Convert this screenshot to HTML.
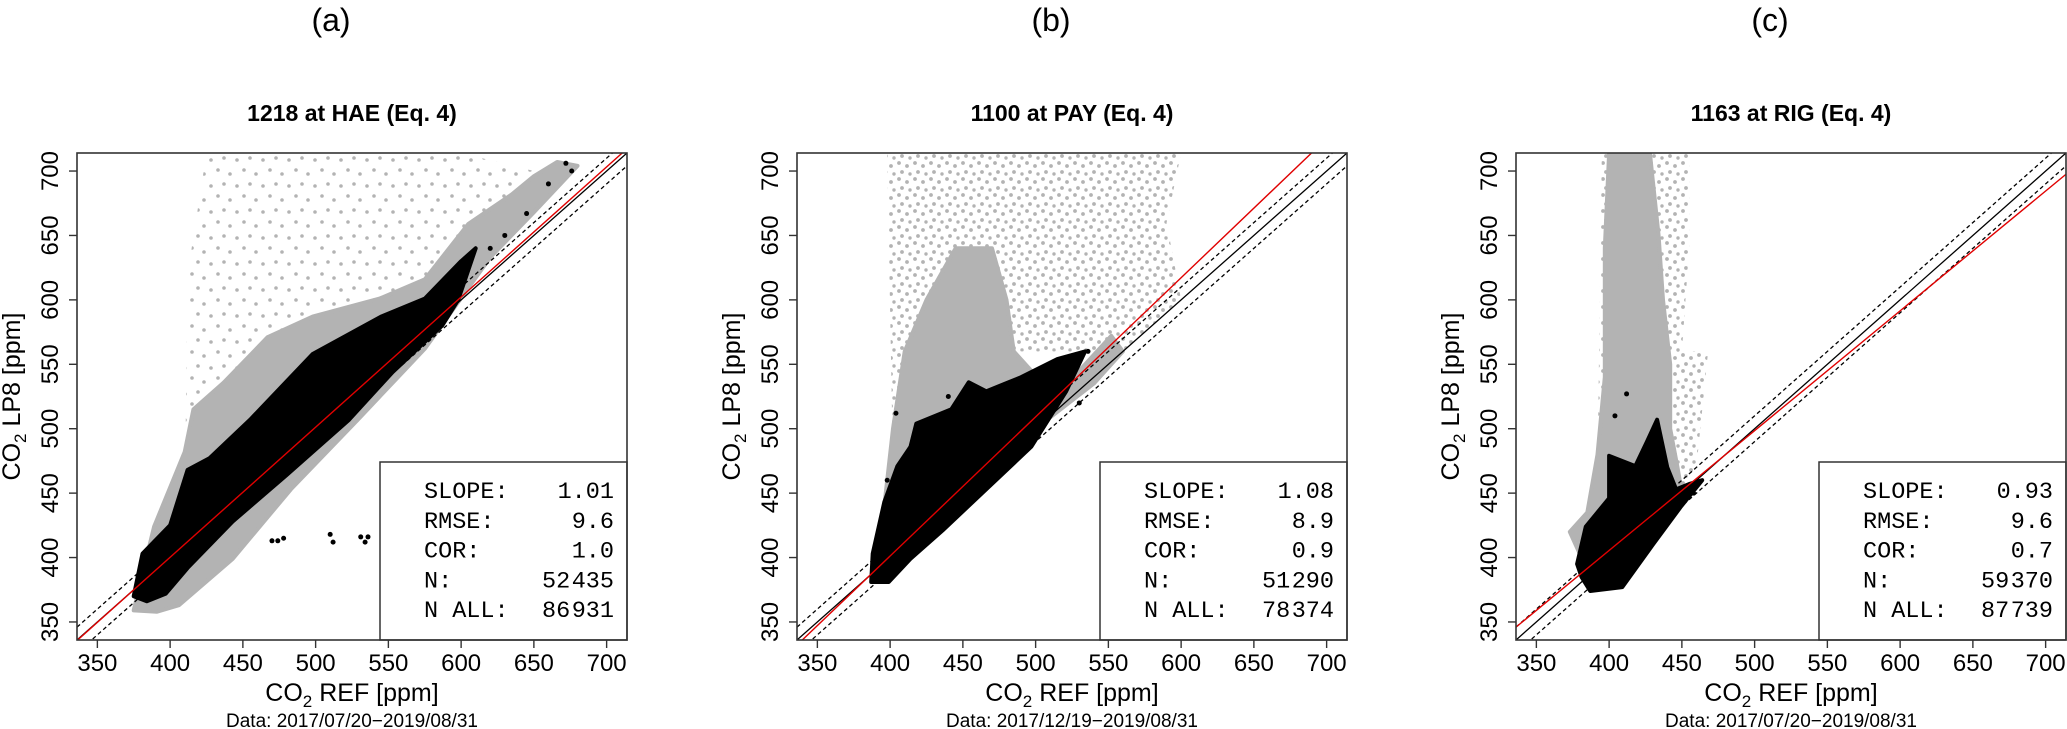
<!DOCTYPE html>
<html><head><meta charset="utf-8"><style>
html,body{margin:0;padding:0;background:#fff;}
svg{display:block;font-family:"Liberation Sans",Arial,sans-serif;}
.mono{font-family:"Liberation Mono","Courier New",monospace;}
</style></head><body>
<svg id="fig" width="2067" height="729" viewBox="0 0 2067 729" xmlns="http://www.w3.org/2000/svg">
<defs>
<pattern id="sparse" width="26" height="26" patternUnits="userSpaceOnUse">
<circle cx="3" cy="4" r="1.8" fill="#b3b3b3"/><circle cx="16" cy="2" r="1.8" fill="#b3b3b3"/>
<circle cx="10" cy="14" r="1.8" fill="#b3b3b3"/><circle cx="22" cy="18" r="1.8" fill="#b3b3b3"/>
</pattern>
<pattern id="sparse2" width="16" height="16" patternUnits="userSpaceOnUse">
<circle cx="3" cy="3" r="1.9" fill="#b3b3b3"/><circle cx="11" cy="6" r="1.9" fill="#b3b3b3"/>
<circle cx="6" cy="12" r="1.9" fill="#b3b3b3"/><circle cx="14" cy="14" r="1.7" fill="#b3b3b3"/>
</pattern>
</defs>
</svg>
<script>
// ---- data ----
const panelLetters = ["(a)", "(b)", "(c)"];
const panelTitles = ["1218 at HAE (Eq. 4)", "1100 at PAY (Eq. 4)", "1163 at RIG (Eq. 4)"];
const dateRanges = ["Data: 2017/07/20\u22122019/08/31", "Data: 2017/12/19\u22122019/08/31", "Data: 2017/07/20\u22122019/08/31"];
const tickValues = [350, 400, 450, 500, 550, 600, 650, 700];
const slopes = [1.01, 1.08, 0.93];
const intercepts = [-3.8, -30.8, 33.5];
const statLabels = ["SLOPE:", "RMSE:", "COR:", "N:", "N ALL:"];
const statsA = ["1.01", "9.6", "1.0", "52 435", "86 931"];
const statsB = ["1.08", "8.9", "0.9", "51 290", "78 374"];
const statsC = ["0.93", "9.6", "0.7", "59 370", "87 739"];
const sparseGrayA = [[410,440],[412,620],[425,714],[600,714],[650,700],[640,670],[560,600],[480,540],[430,490]];
const denseGrayA = [[375,359],[389,424],[410,482],[416,515],[437,536],[467,571],[498,587],[544,601],[575,616],[605,659],[635,682],[650,696],[666,707],[680,704],[650,668],[620,633],[575,562],[529,507],[483,453],[443,399],[406,363],[391,358]];
const blackA = [[375,370],[381,403],[400,425],[412,468],[427,477],[455,507],[498,558],[545,587],[575,601],[600,630],[610,640],[598,600],[587,580],[553,544],[523,507],[480,464],[443,428],[412,392],[397,372],[384,366]];
const outliersA = [[470,413],[474,413],[478,415],[510,418],[512,412],[531,416],[534,412],[536,416],[620,640],[630,650],[645,667],[660,690],[672,706],[676,700],[600,612],[593,603]];
const sparseGrayB = [[402,470],[398,714],[600,714],[590,660],[600,600],[560,560],[480,560]];
const denseGrayB = [[387,385],[396,440],[402,500],[410,560],[425,600],[445,640],[470,640],[480,600],[485,560],[505,535],[530,545],[552,572],[560,560],[540,535],[500,500],[460,460],[430,425],[405,390]];
const blackB = [[387,381],[388,403],[396,443],[405,471],[414,486],[418,504],[442,515],[454,536],[466,529],[490,540],[515,554],[534,560],[521,529],[497,486],[466,453],[436,421],[414,399],[399,381]];
const outliersB = [[398,460],[404,512],[440,525],[460,530],[536,560],[530,520],[478,520]];
const sparseGrayC = [[392,470],[395,714],[455,714],[455,640],[450,560],[468,560],[460,470],[450,450]];
const denseGrayC = [[373,420],[385,435],[392,480],[397,540],[397,640],[400,714],[428,714],[434,650],[437,600],[442,550],[442,500],[447,470],[450,450],[440,440],[430,415],[410,385],[385,390]];
const blackC = [[378,395],[384,424],[400,446],[400,479],[418,471],[426,490],[433,507],[440,470],[446,453],[455,457],[464,460],[449,439],[430,410],[409,377],[387,374],[381,385]];
const outliersC = [[412,527],[404,510],[452,455],[458,450]];
const sparseGroups = [sparseGrayA, sparseGrayB, sparseGrayC];
const denseGroups = [denseGrayA, denseGrayB, denseGrayC];
const blackGroups = [blackA, blackB, blackC];
const outlierGroups = [outliersA, outliersB, outliersC];
const statGroups = [statsA, statsB, statsC];

// ---- layout ----
const NS = "http://www.w3.org/2000/svg";
const svg = document.getElementById("fig");
const LIM = [336, 714];
const boxLefts = [77, 797, 1516];
const BW = 550, BT = 153, BB = 640;
function mk(tag, attrs, parent){ const e=document.createElementNS(NS,tag); for(const k in attrs) e.setAttribute(k,attrs[k]); (parent||svg).appendChild(e); return e; }

boxLefts.forEach((L, p) => {
  const g = mk("g", {});
  
  
  const sx = v => L + (v - LIM[0]) / (LIM[1]-LIM[0]) * BW;
  const sy = v => BB - (v - LIM[0]) / (LIM[1]-LIM[0]) * (BB-BT);
  const cid = "clip" + p;
  const cp = mk("clipPath", {id: cid}, g); mk("rect", {x:L, y:BT, width:BW, height:BB-BT}, cp);
  const plot = mk("g", {"clip-path": "url(#"+cid+")"}, g);
  const pts = arr => arr.map(d => sx(d[0]).toFixed(1)+","+sy(d[1]).toFixed(1)).join(" ");
  const sp = mk("polygon", {points: pts(sparseGroups[p]), fill: p===0 ? "url(#sparse)" : "url(#sparse2)"}, plot);
  
  
  const dg = mk("polygon", {points: pts(denseGroups[p]), fill: "#b3b3b3", stroke:"#b3b3b3", "stroke-width":4, "stroke-linejoin":"round"}, plot);
  
  
  const bk = mk("polygon", {points: pts(blackGroups[p]), fill: "#000", stroke:"#000", "stroke-width":4, "stroke-linejoin":"round"}, plot);
  
  
  outlierGroups[p].forEach(d => {
    const c = mk("circle", {cx: sx(d[0]), cy: sy(d[1]), r: 2.5, fill: "#000"}, plot);
    
    
  });
  [[0,"none"],[10,"4,3"],[-10,"4,3"]].forEach(o => {
    const l = mk("line", {x1:sx(LIM[0]), y1:sy(LIM[0]+o[0]), x2:sx(LIM[1]), y2:sy(LIM[1]+o[0]), stroke:"#000", "stroke-width":1.3, "stroke-dasharray":o[1]}, plot);
    
    
  });
  const rl = mk("line", {x1:sx(LIM[0]), y1:sy(slopes[p]*LIM[0]+intercepts[p]), x2:sx(LIM[1]), y2:sy(slopes[p]*LIM[1]+intercepts[p]), stroke:"#e00000", "stroke-width":1.4}, plot);
  
  
  const lb = mk("rect", {x: L+303, y: 462, width: BW-303, height: BB-462, fill:"#fff", stroke:"#333", "stroke-width":1.5}, g);
  
  
  statLabels.forEach((s, i) => {
    const y = 498 + i*29.8;
    const t1 = mk("text", {x: L+347, y: y, "font-size": 23.5, class:"mono"}, g); t1.textContent = s;
    
    
    const t2 = mk("text", {x: L+BW-13, y: y, "font-size": 23.5, class:"mono", "text-anchor":"end"}, g);
    t2.textContent = statGroups[p][i].replace(" ", "\u200A");
    
    
  });
  const fr = mk("rect", {x:L, y:BT, width:BW, height:BB-BT, fill:"none", stroke:"#333", "stroke-width":1.6}, g);
  
  
  tickValues.forEach(v => {
    mk("line", {x1:sx(v), x2:sx(v), y1:BB, y2:BB+8, stroke:"#333", "stroke-width":1.4}, g);
    const tx = mk("text", {x:sx(v), y:671, "font-size":24, "text-anchor":"middle"}, g); tx.textContent = v;
    
    
    mk("line", {x1:L-8, x2:L, y1:sy(v), y2:sy(v), stroke:"#333", "stroke-width":1.4}, g);
    const ty = mk("text", {x:0, y:0, "font-size":24, "text-anchor":"middle", transform:"translate("+(L-19)+","+sy(v)+") rotate(-90)"}, g); ty.textContent = v;
    
    
  });
  const cx = L + BW/2;
  const xt = mk("text", {x:cx, y:701, "font-size":25, "text-anchor":"middle"}, g);
  xt.innerHTML = 'CO<tspan font-size="17" dy="6">2</tspan><tspan dy="-6"> REF [ppm]</tspan>';
  
  
  const yt = mk("text", {x:0, y:0, "font-size":25, "text-anchor":"middle", transform:"translate("+(L-57)+","+((BT+BB)/2)+") rotate(-90)"}, g);
  yt.innerHTML = 'CO<tspan font-size="17" dy="6">2</tspan><tspan dy="-6"> LP8 [ppm]</tspan>';
  
  
  const dt = mk("text", {x:cx, y:727, "font-size":19, "text-anchor":"middle"}, g); dt.textContent = dateRanges[p];
  
  
  const st = mk("text", {x:cx, y:121, "font-size":23, "font-weight":"bold", "text-anchor":"middle"}, g); st.textContent = panelTitles[p];
  
  
  const lt = mk("text", {x:cx-21, y:31, "font-size":32, "text-anchor":"middle"}, g); lt.textContent = panelLetters[p];
  
  
});
</script>
</body></html>
